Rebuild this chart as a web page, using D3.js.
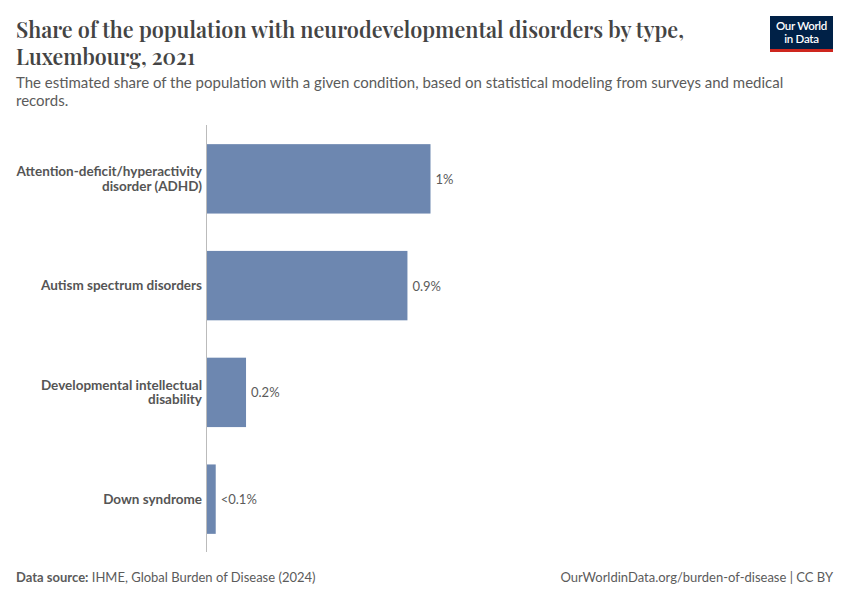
<!DOCTYPE html>
<html><head><meta charset="utf-8">
<script src="https://cdn.jsdelivr.net/npm/d3@7"></script>
<style>body{margin:0;background:#fff}svg{display:block}</style>
</head><body>
<script>
const categories = ["Attention-deficit/hyperactivity disorder (ADHD)", "Autism spectrum disorders", "Developmental intellectual disability", "Down syndrome"];
const labelLines = [["Attention-deficit/hyperactivity", "disorder (ADHD)"], ["Autism spectrum disorders"], ["Developmental intellectual", "disability"], ["Down syndrome"]];
const values = [1.02, 0.915, 0.18, 0.042];
const valueLabels = ["1%", "0.9%", "0.2%", "<0.1%"];

const W = 850, H = 600;
const svg = d3.select("body").append("svg").attr("width", W).attr("height", H);

const titleFont = "'Playfair Display', 'Liberation Serif', serif";
svg.append("text").attr("x", 16).attr("y", 38).attr("font-family", titleFont)
  .attr("font-size", 23).attr("font-weight", 600).attr("fill", "#444")
  .attr("textLength", 668).attr("lengthAdjust", "spacingAndGlyphs")
  .text("Share of the population with neurodevelopmental disorders by type,");
svg.append("text").attr("x", 16).attr("y", 65).attr("font-family", titleFont)
  .attr("font-size", 23).attr("font-weight", 600).attr("fill", "#444")
  .attr("textLength", 179).attr("lengthAdjust", "spacingAndGlyphs")
  .text("Luxembourg, 2021");
svg.append("text").attr("x", 16).attr("y", 88).attr("font-family", "Lato, sans-serif").attr("font-size", 15).attr("fill", "#5b5b5b")
  .text("The estimated share of the population with a given condition, based on statistical modeling from surveys and medical");
svg.append("text").attr("x", 16).attr("y", 106).attr("font-family", "Lato, sans-serif").attr("font-size", 15).attr("fill", "#5b5b5b")
  .text("records.");

// logo
const logo = svg.append("g").attr("transform", "translate(770,16)");
logo.append("rect").attr("width", 63).attr("height", 36).attr("fill", "#002147");
logo.append("rect").attr("y", 33).attr("width", 63).attr("height", 3).attr("fill", "#ce261e");
logo.append("text").attr("x", 31.5).attr("y", 14).attr("text-anchor", "middle").attr("font-family", "Lato, sans-serif").attr("font-size", 11.5).attr("font-weight", 600).attr("fill", "#fff").attr("letter-spacing", -0.3).text("Our World");
logo.append("text").attr("x", 31.5).attr("y", 27).attr("text-anchor", "middle").attr("font-family", "Lato, sans-serif").attr("font-size", 11.5).attr("font-weight", 600).attr("fill", "#fff").attr("letter-spacing", -0.3).text("in Data");

const x0 = 206.5;
const x = d3.scaleLinear().domain([0, 1.02]).range([x0, 430.5]);
const y = d3.scaleBand().domain(categories).range([126, 552]).paddingInner(0.35).paddingOuter(0.17);

const g = svg.append("g");
g.selectAll("rect.bar").data(values).join("rect").attr("class", "bar")
  .attr("x", x0).attr("y", (d, i) => y(categories[i])).attr("width", d => x(d) - x0).attr("height", y.bandwidth())
  .attr("fill", "#6d87b0");

g.append("line").attr("x1", x0).attr("x2", x0).attr("y1", 125).attr("y2", 552).attr("stroke", "#bbb").attr("stroke-width", 1);

g.selectAll("text.val").data(values).join("text").attr("class", "val")
  .attr("x", d => x(d) + 5).attr("y", (d, i) => y(categories[i]) + y.bandwidth() / 2 + 5)
  .attr("font-family", "Lato, sans-serif").attr("font-size", 13).attr("fill", "#5b5b5b").text((d, i) => valueLabels[i]);

labelLines.forEach((lines, i) => {
  const cy = y(categories[i]) + y.bandwidth() / 2;
  const t = g.append("text").attr("text-anchor", "end").attr("font-family", "Lato, sans-serif").attr("font-size", 13.5)
    .attr("font-weight", 700).attr("fill", "#555");
  const lh = 14.5;
  const start = cy - (lines.length - 1) * lh / 2 + 4.5;
  lines.forEach((l, j) => t.append("tspan").attr("x", 202).attr("y", start + j * lh).text(l));
});

svg.append("text").attr("x", 16).attr("y", 582).attr("font-family", "Lato, sans-serif").attr("font-size", 13).attr("fill", "#5b5b5b")
  .html('<tspan font-weight="700">Data source:</tspan> IHME, Global Burden of Disease (2024)');
svg.append("text").attr("x", 833).attr("y", 582).attr("text-anchor", "end").attr("font-family", "Lato, sans-serif").attr("font-size", 13).attr("fill", "#5b5b5b")
  .text("OurWorldinData.org/burden-of-disease | CC BY");
</script>
</body></html>
